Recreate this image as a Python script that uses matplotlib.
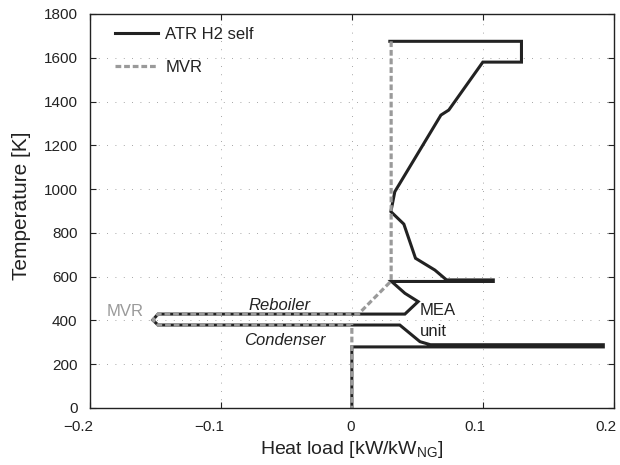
import matplotlib
matplotlib.use("Agg")
import matplotlib.pyplot as plt
from matplotlib.transforms import ScaledTranslation

plt.rcParams['font.family'] = ['Liberation Sans', 'DejaVu Sans']
plt.rcParams['mathtext.fontset'] = 'custom'
plt.rcParams['mathtext.rm'] = 'Liberation Sans'

# ATR H2 self (black solid)
atr_x = [0.029, 0.1295, 0.1295, 0.100, 0.074, 0.068, 0.0328, 0.0298, 0.0397, 0.0486,
         0.0634, 0.0723, 0.108, 0.108, 0.0303, 0.0405, 0.0506, 0.0405, -0.148, -0.152,
         -0.148, 0.0366, 0.052, 0.060, 0.192, 0.192, 0.0, 0.0]
atr_y = [1675, 1675, 1580, 1580, 1361, 1338, 988, 897, 840, 684,
         630, 585, 585, 578, 578, 524, 486, 429, 429, 402,
         379, 379, 303, 289, 289, 279, 279, 0]

# MVR (gray dashed)
mvr_x = [0.030, 0.030, 0.005, -0.148, -0.152, -0.148, 0.0, 0.0]
mvr_y = [1675, 580, 429, 429, 402, 379, 379, 0]

xticks = [-0.2, -0.1, 0, 0.1, 0.2]
xticklabels = ['\u22120.2', '\u22120.1', '0', '0.1', '0.2']
yticks = list(range(0, 1801, 200))

DARK = '#222222'
GRAY = '#9a9a9a'

fig = plt.figure(figsize=(6.2, 4.65), dpi=100)
ax = fig.add_axes([0.145, 0.1226, 0.845, 0.8474])

ax.plot(atr_x, atr_y, color=DARK, lw=2.2, label='ATR H2 self', solid_joinstyle='miter')
ax.plot(mvr_x, mvr_y, color=GRAY, lw=2.3, ls=(0, (1.8, 0.9)), label='MVR')

ax.set_xlim(-0.2, 0.2)
ax.set_ylim(0, 1800)
ax.set_xticks(xticks)
ax.set_yticks(yticks)
ax.set_xticklabels(xticklabels)
ax.tick_params(direction='in', top=True, right=True, labelsize=11, length=4,
               colors=DARK, width=0.8)
ax.tick_params(axis='y', pad=9)
ax.tick_params(axis='x', pad=9)
ax.grid(True, ls=(0, (1, 9)), color='#888888', lw=0.6)
for s in ax.spines.values():
    s.set_color(DARK)
    s.set_linewidth(1.0)

shift = ScaledTranslation(3 / 100, 0, fig.dpi_scale_trans)
for lbl in ax.get_xticklabels():
    lbl.set_ha('right')
    lbl.set_transform(lbl.get_transform() + shift)

ax.set_xlabel(r'Heat load [kW/kW$_\mathregular{NG}$]', fontsize=14, color=DARK)
ax.set_ylabel('Temperature [K]', fontsize=15, color=DARK)
ax.xaxis.set_label_coords(0.5, -0.078)
ax.yaxis.set_label_coords(-0.113, 0.513)

ax.text(-0.055, 470, 'Reboiler', style='italic', fontsize=12, ha='center', va='center', color=DARK)
ax.text(-0.051, 310, 'Condenser', style='italic', fontsize=12, ha='center', va='center', color=DARK)
ax.text(0.052, 447, 'MEA', fontsize=12, ha='left', va='center', color=DARK)
ax.text(0.052, 350, 'unit', fontsize=12, ha='left', va='center', color=DARK)
ax.text(-0.173, 440, 'MVR', fontsize=12, ha='center', va='center', color=GRAY)

leg = ax.legend(loc='upper left', frameon=False, fontsize=12, handlelength=2.6,
                handletextpad=0.42, labelspacing=1.1, borderpad=0, borderaxespad=0,
                bbox_to_anchor=(0.048, 0.967))
for t in leg.get_texts():
    t.set_color(DARK)

fig.savefig('out.png', dpi=100)
